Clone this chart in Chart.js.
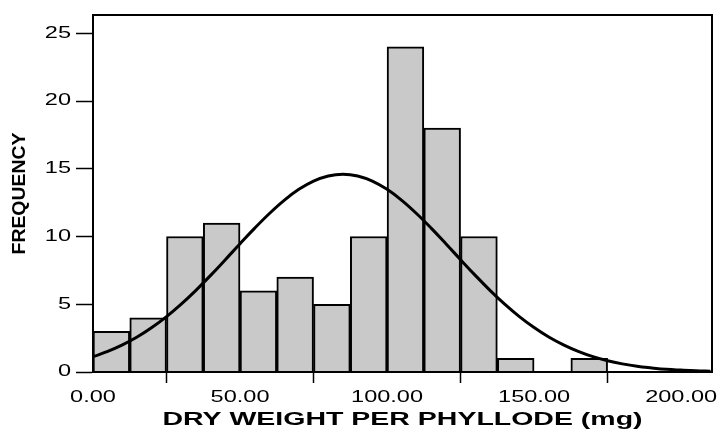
<!DOCTYPE html>
<html>
<head>
<meta charset="utf-8">
<script src="https://cdn.jsdelivr.net/npm/chart.js@4.4.1/dist/chart.umd.min.js"></script>
<style>
  html, body { margin: 0; padding: 0; background: #fff; }
  #wrap { width: 722px; height: 433px; }
</style>
</head>
<body>
<div id="wrap"><canvas id="c" width="722" height="433"></canvas></div>
<script>
// Histogram bins (mg): bin centres and frequencies
const binCenters = [6.25, 18.75, 31.25, 43.75, 56.25, 68.75, 81.25, 93.75, 106.25, 118.75, 131.25, 143.75, 156.25, 168.75];
const frequencies = [3, 4, 10, 11, 6, 7, 5, 10, 24, 18, 10, 1, 0, 1];

// Normal curve
const curveX = [0, 5, 10, 15, 20, 25, 30, 35, 40, 45, 50, 55, 60, 65, 70, 75, 80, 85, 90, 95, 100, 105, 110, 115, 120, 125, 130, 135, 140, 145, 150, 155, 160, 165, 170, 175, 180, 185, 190, 195, 200, 205, 210];
const curveY = [1.13, 1.52, 2.00, 2.58, 3.28, 4.09, 5.01, 6.03, 7.13, 8.29, 9.47, 10.62, 11.70, 12.67, 13.48, 14.09, 14.47, 14.60, 14.47, 14.09, 13.48, 12.67, 11.70, 10.62, 9.47, 8.29, 7.13, 6.03, 5.01, 4.09, 3.28, 2.58, 2.00, 1.52, 1.13, 0.83, 0.60, 0.42, 0.30, 0.20, 0.14, 0.09, 0.06];

const xTicks = [0, 50, 100, 150, 200];
const yTicks = [0, 5, 10, 15, 20, 25];

const FONT = "'Liberation Sans', Arial, sans-serif";

// The reference uses horizontally wide lettering; widen text around its anchor point
const widePlugin = {
  id: 'wide',
  beforeDraw(chart) {
    const ctx = chart.ctx;
    if (ctx._wide) return;
    const orig = ctx.fillText.bind(ctx);
    ctx.fillText = function (text, x, y, maxWidth) {
      let sx = 1.47;
      if (/bold/.test(ctx.font)) sx = (text === 'FREQUENCY') ? 1.05 : 1.54;
      ctx.save();
      ctx.translate(x, y);
      ctx.scale(sx, 1);
      if (maxWidth === undefined) orig(text, 0, 0); else orig(text, 0, 0, maxWidth / sx);
      ctx.restore();
    };
    ctx._wide = true;
  }
};

const framePlugin = {
  id: 'frame',
  afterDatasetsDraw(chart) {
    const a = chart.chartArea, ctx = chart.ctx;
    ctx.save();
    ctx.strokeStyle = '#000';
    ctx.lineWidth = 2;
    ctx.strokeRect(a.left, a.top, a.right - a.left, a.bottom - a.top);
    ctx.restore();
  }
};

new Chart(document.getElementById('c'), {
  data: {
    datasets: [
      {
        type: 'line',
        data: curveX.map((x, i) => ({ x: x, y: curveY[i] })),
        borderColor: '#000',
        borderWidth: 3,
        pointRadius: 0,
        tension: 0.4,
        fill: false,
        order: 0
      },
      {
        type: 'bar',
        data: binCenters.map((x, i) => ({ x: x, y: frequencies[i] })),
        backgroundColor: '#c9c9c9',
        borderColor: '#000',
        borderWidth: 2,
        borderSkipped: 'bottom',
        barPercentage: 1,
        categoryPercentage: 1,
        order: 1
      }
    ]
  },
  options: {
    responsive: false,
    animation: false,
    layout: { padding: { left: 0, right: 10, top: 15, bottom: 0 } },
    plugins: { legend: { display: false }, tooltip: { enabled: false } },
    scales: {
      x: {
        type: 'linear',
        min: 0,
        max: 210.5,
        offset: false,
        afterBuildTicks(s) { s.ticks = xTicks.map(v => ({ value: v })); },
        afterFit(s) { s.height = 61; },
        ticks: {
          color: '#000',
          font: { family: FONT, size: 16 },
          padding: 5,
          maxRotation: 0,
          autoSkip: false,
          callback: v => Number(v).toFixed(2)
        },
        grid: { drawOnChartArea: false, drawTicks: true, tickLength: 11, tickColor: '#000', tickWidth: 1.5 },
        border: { display: true, color: '#000', width: 2 },
        title: {
          display: true,
          text: 'DRY WEIGHT PER PHYLLODE (mg)',
          color: '#000',
          font: { family: FONT, size: 18.5, weight: 'bold' },
          padding: { top: 0, bottom: 1.5 }
        }
      },
      y: {
        type: 'linear',
        min: 0,
        max: 26.35,
        afterBuildTicks(s) { s.ticks = yTicks.map(v => ({ value: v })); },
        afterFit(s) { s.width = 93; },
        ticks: {
          color: '#000',
          font: { family: FONT, size: 16 },
          padding: 5
        },
        grid: { drawOnChartArea: false, drawTicks: true, tickLength: 17, tickColor: '#000', tickWidth: 1.5 },
        border: { display: true, color: '#000', width: 2 },
        title: {
          display: true,
          text: 'FREQUENCY',
          color: '#000',
          font: { family: FONT, size: 18.5, weight: 'bold' },
          padding: { top: 8.5, bottom: 0 }
        }
      }
    }
  },
  plugins: [widePlugin, framePlugin]
});
</script>
</body>
</html>
